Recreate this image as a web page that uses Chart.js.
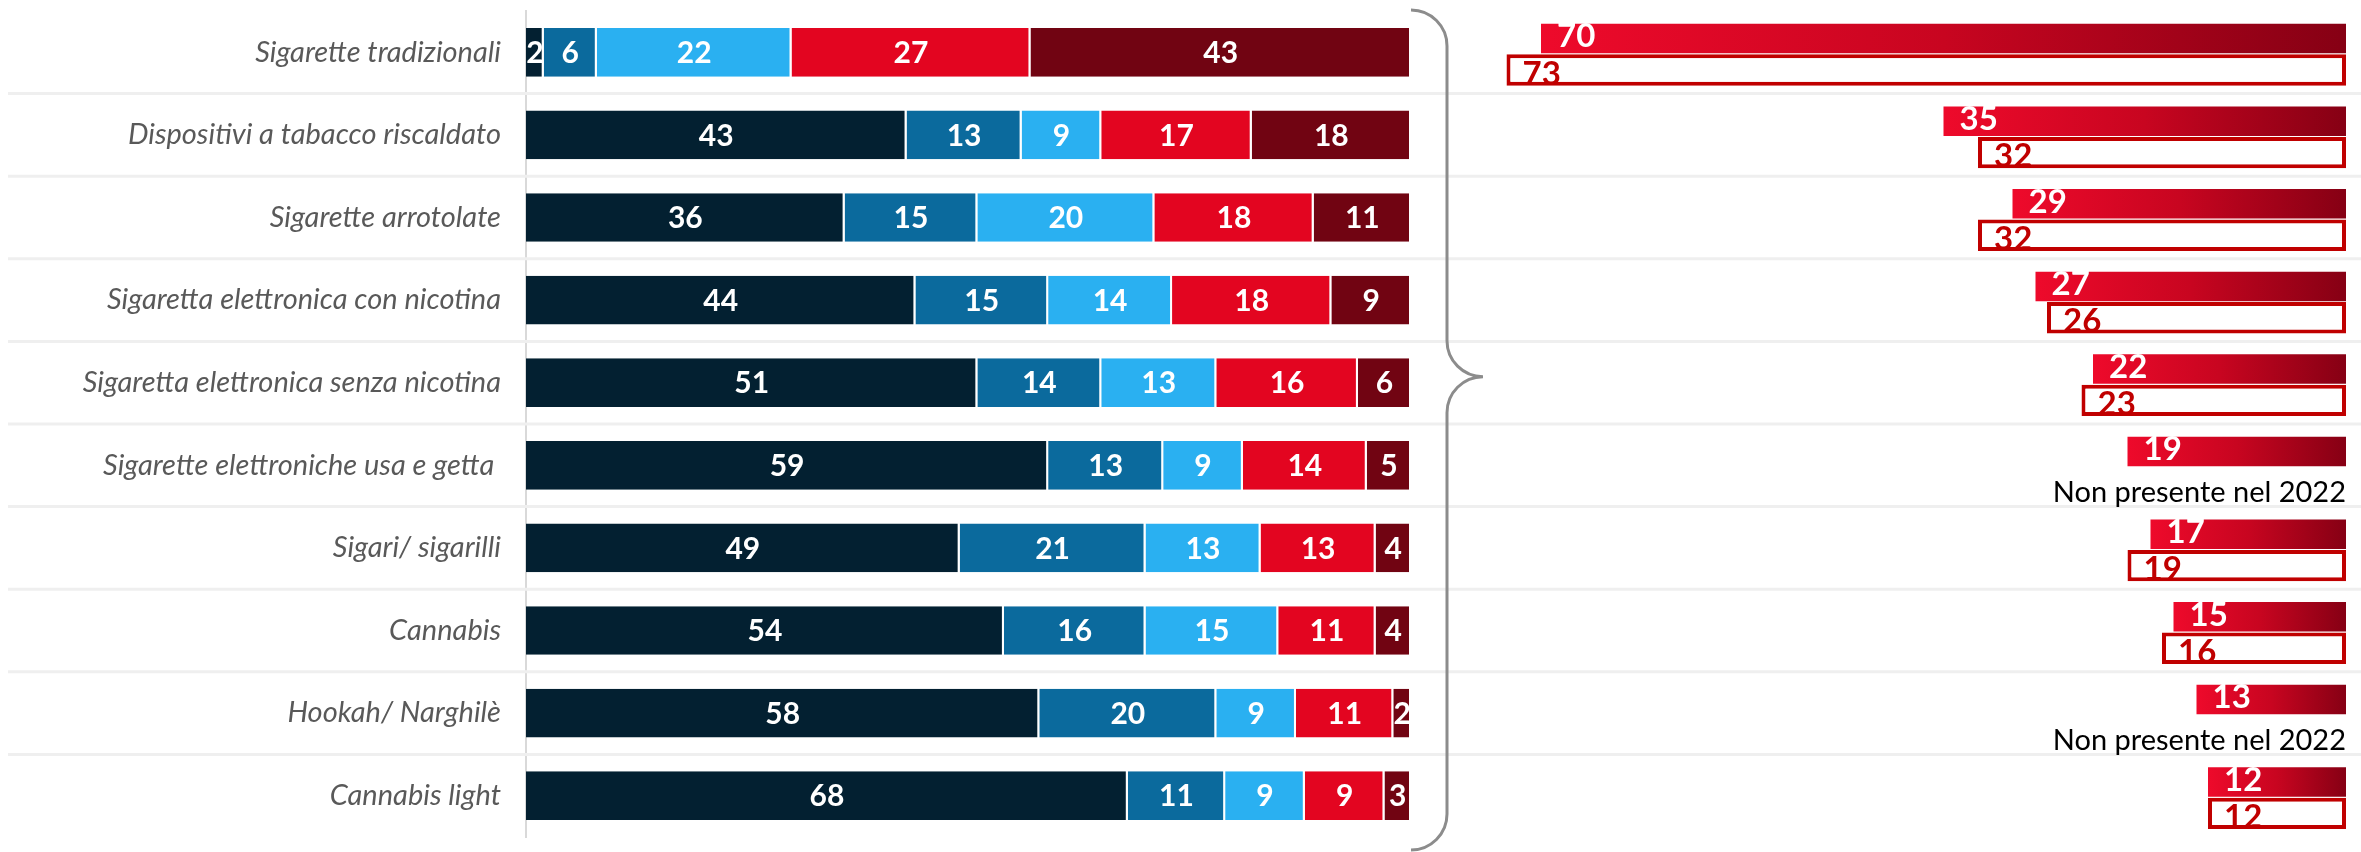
<!DOCTYPE html>
<html>
<head>
<meta charset="utf-8">
<script src="https://cdn.jsdelivr.net/npm/chart.js@4.4.1/dist/chart.umd.min.js"></script>
<style>
  html, body { margin: 0; padding: 0; background: #fff; }
  #wrap { position: relative; width: 2361px; height: 852px; }
  #left { position: absolute; left: 0; top: 0; }
  #right { position: absolute; left: 1426px; top: 0; }
</style>
</head>
<body>
<div id="wrap">
  <canvas id="left" width="2361" height="852"></canvas>
  <canvas id="right" width="935" height="852"></canvas>
</div>
<script>
// categories (top to bottom)
const categories = [
  'Sigarette tradizionali',
  'Dispositivi a tabacco riscaldato',
  'Sigarette arrotolate',
  'Sigaretta elettronica con nicotina',
  'Sigaretta elettronica senza nicotina',
  'Sigarette elettroniche usa e getta ',
  'Sigari/ sigarilli',
  'Cannabis',
  'Hookah/ Narghilè',
  'Cannabis light'
];

// stacked shares, left chart (%)
const share1 = [2, 43, 36, 44, 51, 59, 49, 54, 58, 68];
const share2 = [6, 13, 15, 15, 14, 13, 21, 16, 20, 11];
const share3 = [22, 9, 20, 14, 13, 9, 13, 15, 9, 9];
const share4 = [27, 17, 18, 18, 16, 14, 13, 11, 11, 9];
const share5 = [43, 18, 11, 9, 6, 5, 4, 4, 2, 3];

// right chart: current year (filled) and 2022 (outlined), null = not surveyed
const val2024 = [70, 35, 29, 27, 22, 19, 17, 15, 13, 12];
const val2022 = [73, 32, 32, 26, 23, null, 19, 16, null, 12];
const missingText = 'Non presente nel 2022';

const segColors = ['#032031', '#0B6A9D', '#2AB0F1', '#E30520', '#710412'];

// light separators between rows + the curly bracket
const decorPlugin = {
  id: 'decor',
  beforeDatasetsDraw(chart){
    const ctx = chart.ctx, y = chart.scales.y;
    ctx.save();
    ctx.strokeStyle = '#EFEFEF';
    ctx.lineWidth = 3;
    for(let i=0;i<categories.length-1;i++){
      const yy = (y.getPixelForValue(i) + y.getPixelForValue(i+1)) / 2;
      ctx.beginPath(); ctx.moveTo(8, yy); ctx.lineTo(chart.width, yy); ctx.stroke();
    }
    ctx.restore();
  },
  afterDraw(chart){
    const ctx = chart.ctx, a = chart.chartArea, y = chart.scales.y;
    const r = 36;
    const x0 = a.right, xv = x0 + r;
    const top = 10, bottom = chart.height - 2;
    const tip = y.getPixelForValue(4) - 6;
    ctx.save();
    ctx.strokeStyle = '#8C8C8C';
    ctx.lineWidth = 3;
    ctx.beginPath();
    ctx.moveTo(x0, top);
    ctx.arcTo(xv, top, xv, top + r, r);
    ctx.lineTo(xv, tip - r);
    ctx.arcTo(xv, tip, xv + r, tip, r);
    ctx.arcTo(xv, tip, xv, tip + r, r);
    ctx.lineTo(xv, bottom - r);
    ctx.arcTo(xv, bottom, x0, bottom, r);
    ctx.stroke();
    ctx.restore();
  }
};

// centered white labels on each stacked segment
const stackLabels = {
  id: 'stackLabels',
  afterDatasetsDraw(chart){
    const ctx = chart.ctx;
    ctx.save();
    ctx.font = 'bold 30px Lato';
    ctx.fillStyle = '#fff';
    ctx.textAlign = 'center';
    ctx.textBaseline = 'middle';
    chart.data.datasets.forEach((ds, di)=>{
      chart.getDatasetMeta(di).data.forEach((el, i)=>{
        const v = ds.data[i];
        if(v == null) return;
        ctx.fillText(String(v), (el.x + el.base) / 2, el.y + 1);
      });
    });
    ctx.restore();
  }
};

// labels at the start of the right bars, and the "missing" note
const trendLabels = {
  id: 'trendLabels',
  afterDatasetsDraw(chart){
    const ctx = chart.ctx, x = chart.scales.x, y = chart.scales.y;
    ctx.save();
    ctx.textBaseline = 'alphabetic';
    chart.data.datasets.forEach((ds, di)=>{
      chart.getDatasetMeta(di).data.forEach((el, i)=>{
        const v = ds.data[i];
        if(v == null){
          ctx.font = '29px Lato';
          ctx.fillStyle = '#000';
          ctx.textAlign = 'right';
          ctx.fillText(missingText, x.getPixelForValue(0), y.getPixelForValue(i) + 35);
          return;
        }
        ctx.font = 'bold 33px Lato';
        ctx.textAlign = 'left';
        ctx.fillStyle = di === 0 ? '#fff' : '#C00000';
        const h = el.height || 30;
        const lift = di === 0 ? 6 : 1;
        ctx.fillText(String(v), el.x + 16, el.y + h / 2 - lift);
      });
    });
    ctx.restore();
  }
};

function redGradient(c){
  const chart = c.chart;
  if(c.type !== 'data' || !chart.scales.x) return '#D0021B';
  const x = chart.scales.x;
  const a = x.getPixelForValue(c.raw), b = x.getPixelForValue(0);
  if(!isFinite(a) || !isFinite(b) || a === b) return '#D0021B';
  const g = chart.ctx.createLinearGradient(a, 0, b, 0);
  g.addColorStop(0, '#EE0A2B');
  g.addColorStop(0.5, '#C80520');
  g.addColorStop(1, '#860014');
  return g;
}

function drawLeft(ctx){
  const shares = [share1, share2, share3, share4, share5];
  return new Chart(ctx, {
    type: 'bar',
    data: {
      labels: categories,
      datasets: shares.map((s, i)=>({
        data: s,
        backgroundColor: segColors[i],
        borderColor: '#fff',
        borderWidth: { left: 0, right: 2, top: 0, bottom: 0 },
        borderSkipped: false,
        barPercentage: 0.59,
        categoryPercentage: 1
      }))
    },
    options: {
      indexAxis: 'y',
      responsive: false,
      animation: false,
      layout: { padding: { left: 0, right: 950, top: 11, bottom: 15 } },
      plugins: { legend: { display: false }, tooltip: { enabled: false } },
      scales: {
        x: { display: false, stacked: true, min: 0, max: 100 },
        y: {
          stacked: true,
          grid: { display: false, drawTicks: false },
          border: { display: true, color: '#D9D9D9', width: 2 },
          ticks: { color: '#595959', padding: 25, autoSkip: false,
                   font: { family: 'Lato', style: 'italic', size: 29 } },
          afterFit(scale){
            scale.width = 526;
            scale.paddingTop = 0;
            scale.paddingBottom = 0;
          }
        }
      }
    },
    plugins: [decorPlugin, stackLabels]
  });
}

function drawRight(ctx){
  return new Chart(ctx, {
    type: 'bar',
    data: {
      labels: categories,
      datasets: [
        { data: val2024, backgroundColor: redGradient, borderWidth: 0,
          barPercentage: 0.94, categoryPercentage: 0.76 },
        { data: val2022, backgroundColor: '#fff', borderColor: '#C00000',
          borderWidth: 4, borderSkipped: false,
          barPercentage: 1, categoryPercentage: 0.76 }
      ]
    },
    options: {
      indexAxis: 'y',
      responsive: false,
      animation: false,
      layout: { padding: { left: 0, right: 15, top: 13, bottom: 13 } },
      plugins: { legend: { display: false }, tooltip: { enabled: false } },
      scales: {
        x: { display: false, min: 0, max: 80, reverse: true },
        y: { display: false }
      }
    },
    plugins: [trendLabels]
  });
}

drawLeft(document.getElementById('left'));
drawRight(document.getElementById('right'));
</script>
</body>
</html>
